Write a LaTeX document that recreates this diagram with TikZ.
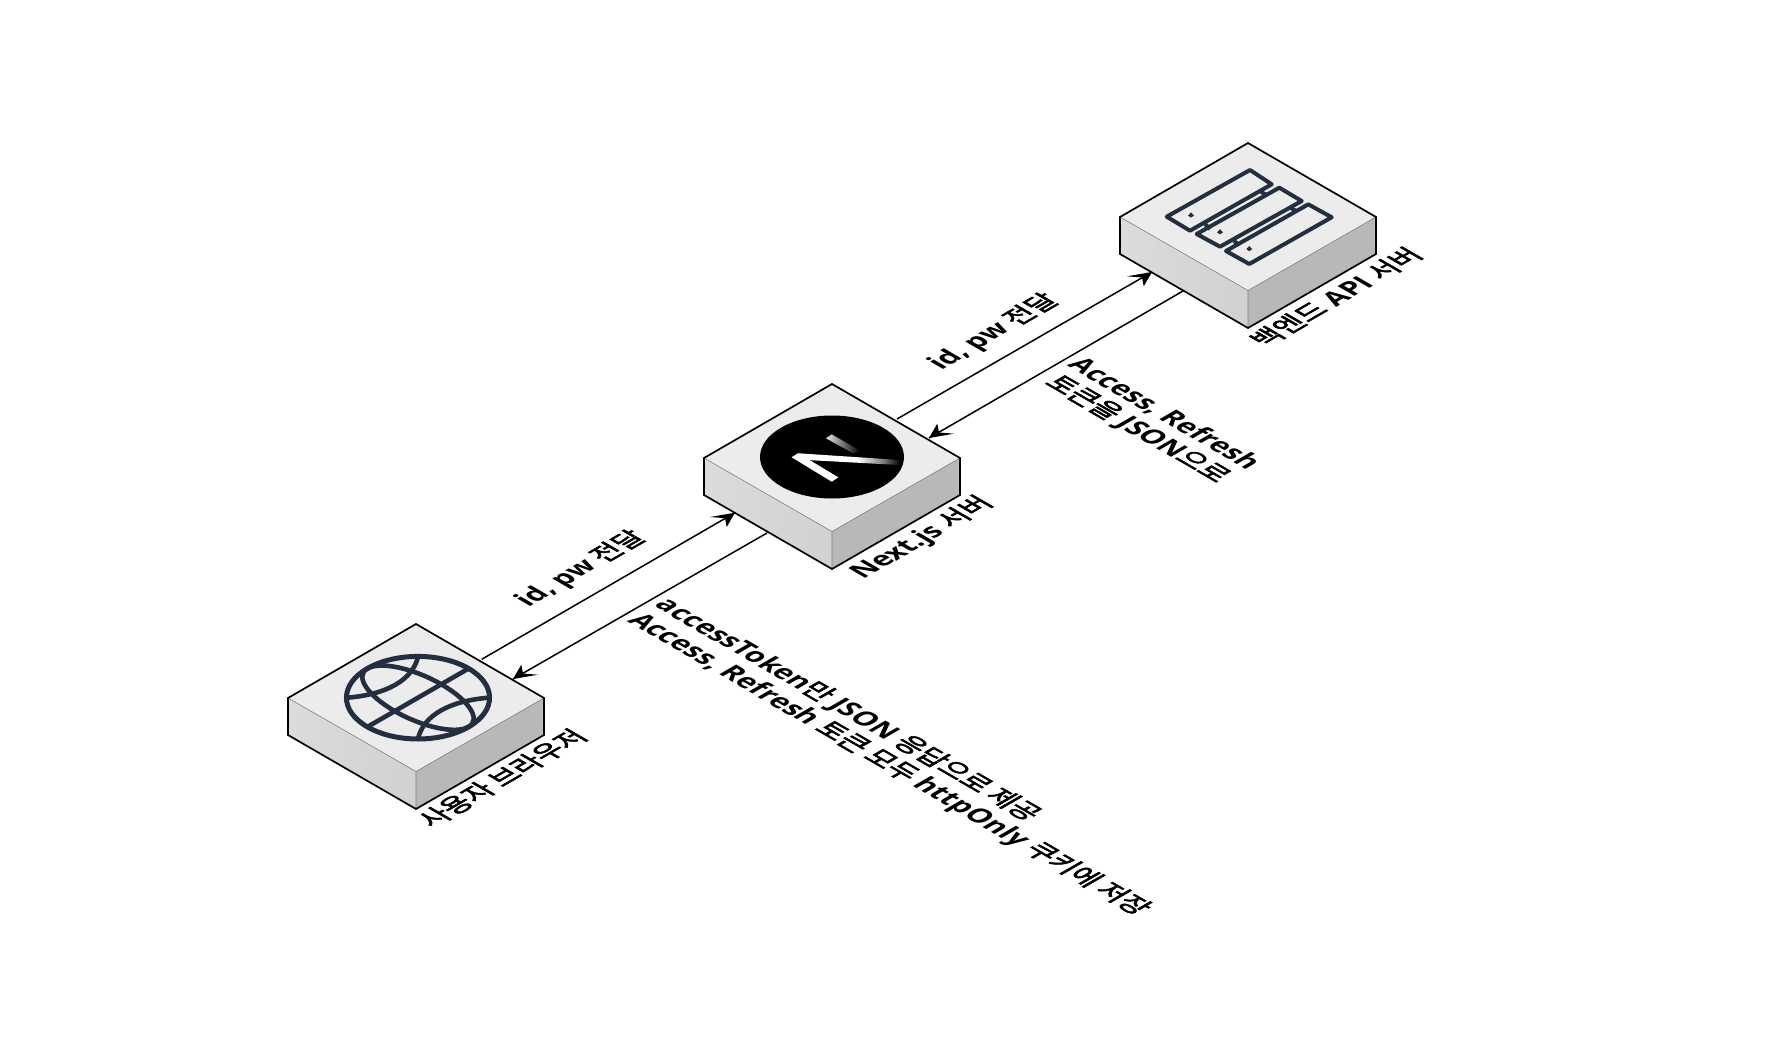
\documentclass[tikz,border=0pt]{standalone}
\usepackage{fontspec}
\setmainfont{Open Sans}
\newfontfamily\kof{Noto Sans CJK KR}[FakeBold=2.4]
\newcommand{\ko}[1]{{\mdseries\kof #1}}
\pgfdeclarehorizontalshading{nfade}{100bp}{color(0bp)=(white); color(55bp)=(white); color(67bp)=(black!50); color(75bp)=(black); color(100bp)=(black)}
\definecolor{iconink}{HTML}{232F3E}
\definecolor{topface}{HTML}{ECECEC}
\definecolor{rightface}{HTML}{B8B8B8}
\tikzset{
  outline/.style={draw=black,line width=1.7pt,line join=miter},
  innerline/.style={draw=black!50,line width=.6pt},
  conn/.style={draw=black,line width=1.5pt},
  tiph/.style={fill=black,draw=none},
  labelbase/.style={inner sep=0pt,font=\fontsize{27.2}{31}\selectfont\bfseries,text=black},
  netext/.style={labelbase,cm={.866,.5,-.866,.5,(0,0)}},
  setext/.style={labelbase,align=left,cm={.866,-.5,.866,.5,(0,0)}},
  icon/.style={draw=iconink,line width=4pt,line join=round,line cap=round},
}
\newcommand{\isobox}[3]{%
  \coordinate (#1t) at (#2,#3);
  \coordinate (#1l) at (#2-128,#3+74);
  \coordinate (#1r) at (#2+128,#3+74);
  \coordinate (#1f) at (#2,#3+147.5);
  \coordinate (#1b) at (#2,#3+185);
  \coordinate (#1ll) at (#2-128,#3+111);
  \coordinate (#1rl) at (#2+128,#3+111);
  \fill[topface] (#1t)--(#1r)--(#1f)--(#1l)--cycle;
  \shade[left color=black!14,right color=black!18] (#1l)--(#1f)--(#1b)--(#1ll)--cycle;
  \fill[rightface] (#1f)--(#1r)--(#1rl)--(#1b)--cycle;
  \draw[innerline] (#1l)--(#1f)--(#1r) (#1f)--(#1b);
  \draw[outline] (#1t)--(#1r)--(#1rl)--(#1b)--(#1ll)--(#1l)--cycle;
}
% head pointing south-west / north-east, sheared into the floor plane
\newcommand{\headsw}[1]{\fill[tiph] (#1) -- ++(25,-4.3) -- ++(-15,-1.2) -- ++(-1.7,-8.8) -- cycle;}
\newcommand{\headne}[1]{\fill[tiph] (#1) -- ++(-25,4.3) -- ++(15,1.2) -- ++(1.7,8.8) -- cycle;}
\begin{document}
\begin{tikzpicture}[x=1pt,y=-1pt]
\useasboundingbox (0,0) rectangle (1792,1063);
\isobox{br}{416}{624}
\isobox{nx}{832}{384}
\isobox{be}{1248}{143}
% globe
\begin{scope}[shift={(418,697.7)},x={(50.6pt,29.2pt)},y={(-50.6pt,29.2pt)}]
  \draw[icon,line width=5pt] (0,0) circle[radius=1];
  \draw[icon,line width=4.6pt,line cap=butt] (-1,0)--(1,0);
  \draw[icon,line width=4.6pt,line cap=butt] (-.7,.7) .. controls (-.25,.36) and (.25,.36) .. (.7,.7);
  \draw[icon,line width=4.6pt,line cap=butt] (-.7,-.7) .. controls (-.25,-.36) and (.25,-.36) .. (.7,-.7);
  \draw[icon,line width=4.6pt] (0,0) ellipse[x radius=.46,y radius=1];
\end{scope}
% Next logo
\fill[black] (832,457) ellipse[x radius=72,y radius=41.5];
\fill[white] (791.7,457.3)--(798.3,453.3)--(838.3,477.3)--(831.7,481.7)--cycle;
\shade[shading=nfade] (791.7,457.3)--(798.3,453.3)--(900,460)--(900,465)--(806.7,460)--cycle;
\shade[left color=black!10,right color=black] (826,438.3)--(831.7,434.3)--(860,450.7)--(853.3,453.3)--cycle;
% server racks
\draw[icon] (1166.7,216.7)--(1250,170)--(1271.7,184.3)--(1190,230.7)--cycle;
\draw[icon] (1196.7,234)--(1279.3,187.7)--(1301.7,201)--(1220,246.7)--cycle;
\draw[icon] (1226,251)--(1308.3,204.3)--(1331.7,217.3)--(1249.3,264)--cycle;
\draw[icon,line cap=butt] (1205,224)--(1210,229) (1261,192)--(1267,195) (1234,241)--(1239,245) (1291,208)--(1296,211);
\fill[iconink] (1191,212.4)--(1194,215.6)--(1191,217.6)--(1188,215.6)--cycle;
\fill[iconink] (1220,229.2)--(1223,232.4)--(1220,234.4)--(1217,232.4)--cycle;
\fill[iconink] (1249.3,246)--(1252.3,249.2)--(1249.3,251.2)--(1246.3,249.2)--cycle;
% connectors
\coordinate (a1s) at (481.7,659.3); \coordinate (a1e) at (735,512.7);
\coordinate (a2s) at (767,533);     \coordinate (a2e) at (513,679);
\coordinate (a3s) at (897,419);     \coordinate (a3e) at (1152,272);
\coordinate (a4s) at (1183,291);    \coordinate (a4e) at (929,438);
\draw[conn] (a1s)--(a1e); \headne{a1e}
\draw[conn] (a2s)--(a2e); \headsw{a2e}
\draw[conn] (a3s)--(a3e); \headne{a3e}
\draw[conn] (a4s)--(a4e); \headsw{a4e}
% labels
\node[netext] (lbr) at (502,778) {\ko{사용자 브라우저}};
\node[netext] (lnx) at (922,538) {Next.js \ko{서버}};
\node[netext] (lbe) at (1336,297) {\ko{백엔드} API \ko{서버}};
\node[netext] (lu1) at (581,569) {id, pw \ko{전달}};
\node[netext] (lu2) at (994,332) {id, pw \ko{전달}};
\node[setext,align=center] (ld1) at (1150,422) {Access, Refresh\\ \ko{토큰을} JSON\ko{으로}};
\node[setext] (ld2) at (902,757) {accessToken\ko{만} JSON \ko{응답으로 제공}\\Access, Refresh \ko{토큰 모두} httpOnly \ko{쿠키에 저장}};
\end{tikzpicture}
\end{document}
